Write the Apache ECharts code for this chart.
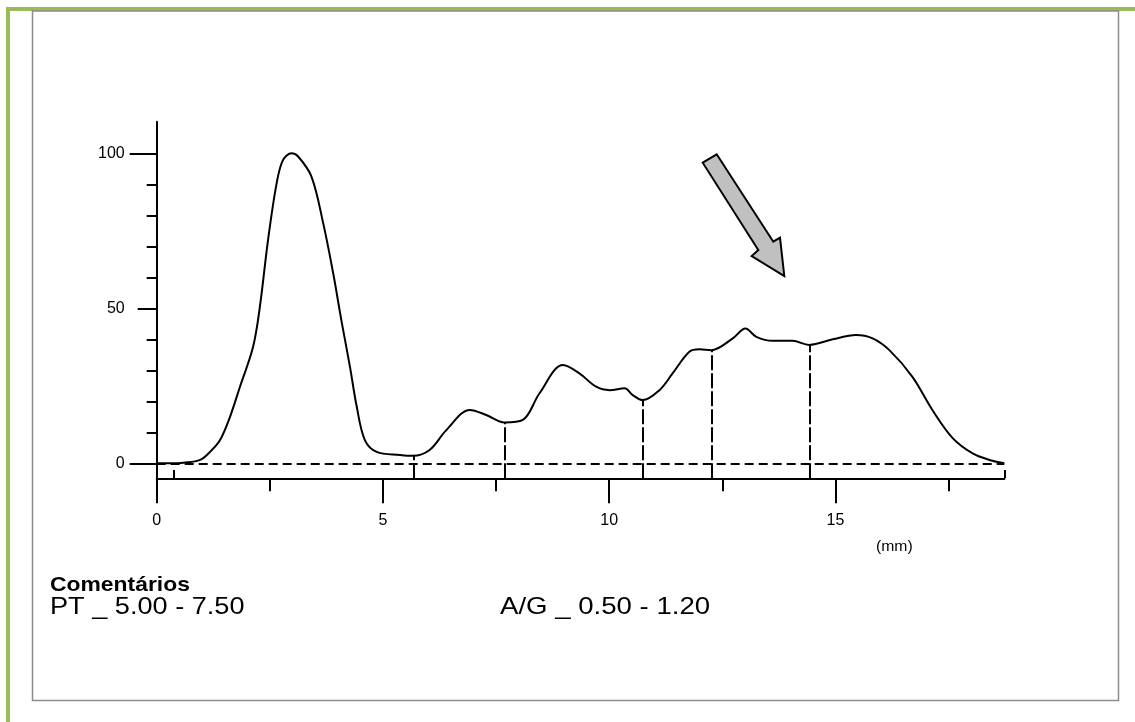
<!DOCTYPE html>
<html><head><meta charset="utf-8">
<script src="https://cdn.jsdelivr.net/npm/echarts@6/dist/echarts.min.js"></script>
<style>html,body{margin:0;padding:0;background:#fff}#c{width:1135px;height:722px}</style>
</head><body><div id="c"></div>
<script>
// Densitometry profile (x in mm, y relative %)
const curveX = [0, 0.3, 0.59, 0.96, 1.20, 1.40, 1.62, 1.84, 2.13, 2.28, 2.46, 2.65, 2.79, 2.98, 3.13, 3.42, 3.68, 3.90, 4.08, 4.27, 4.42, 4.60, 4.86, 5.38, 5.66, 6.03, 6.40, 6.92, 7.28, 7.69, 8.09, 8.46, 8.98, 9.34, 9.71, 10.01, 10.34, 10.52, 10.74, 11.11, 11.40, 11.77, 11.99, 12.25, 12.73, 13.01, 13.25, 13.61, 14.05, 14.42, 14.94, 15.45, 15.82, 16.19, 16.70, 17.14, 17.59, 18.03, 18.47, 18.73];
const curveY = [0, 0, 0.2, 1.1, 4.0, 7.5, 15.0, 24.7, 37.6, 50.5, 72.0, 90.3, 97.8, 100, 98.9, 92.5, 77.4, 61.3, 46.2, 31.2, 18.3, 7.5, 3.7, 2.7, 2.4, 4.3, 10.7, 17.2, 15.6, 13.2, 14.0, 22.6, 31.7, 29.0, 24.7, 23.6, 24.2, 22.0, 20.4, 23.6, 29.0, 36.0, 36.8, 36.5, 40.3, 43.5, 40.8, 39.5, 39.5, 38.2, 40.0, 41.4, 40.3, 36.5, 27.9, 17.2, 8.1, 3.2, 0.8, 0];
// fraction boundaries (dashed verticals) and their heights on the curve
const boundX = [5.68, 7.69, 10.74, 12.26, 14.42];
const boundTop = [2.4, 13.2, 20.4, 36.5, 38.2];
// start / end markers
const endX = [0.37, 18.73];
const endTop = [-2.2, -2.2];
// axis ticks & labels
const yLabelValues = [0, 50, 100];
const yLongTicks = [0, 100];
const yMidTicks = [50];
const yMinorTicks = [10, 20, 30, 40, 60, 70, 80, 90];
const xLabelValues = [0, 5, 10, 15];
const xMinorTicks = [2.5, 7.5, 12.5, 17.5];
const X_MIN = 0, X_MAX = 18.73, Y_MIN = -4.84, Y_MAX = 110.2;

const FONT = 'Liberation Sans, Arial, sans-serif';
const chart = echarts.init(document.getElementById('c'), null, {renderer: 'canvas'});

function yAx(ticks, len, showLine, labels) {
  return {
    type: 'value', position: 'left', min: Y_MIN, max: Y_MAX,
    axisLine: {show: showLine, onZero: false, lineStyle: {color: '#000', width: 2}},
    axisTick: {show: true, customValues: ticks, length: len, lineStyle: {color: '#000', width: 2}},
    axisLabel: labels ? {show: true, customValues: labels, margin: 32, color: '#000', fontSize: 16, fontFamily: FONT} : {show: false},
    splitLine: {show: false}
  };
}
function xAx(ticks, len, showLine, labels) {
  return {
    type: 'value', position: 'bottom', min: X_MIN, max: X_MAX,
    axisLine: {show: showLine, onZero: false, lineStyle: {color: '#000', width: 2}},
    axisTick: {show: true, customValues: ticks, length: len, lineStyle: {color: '#000', width: 2}},
    axisLabel: labels ? {show: true, customValues: labels, margin: 34, color: '#000', fontSize: 16, fontFamily: FONT} : {show: false},
    splitLine: {show: false}
  };
}

const boundLines = boundX.map((x, i) => [{coord: [x, Y_MIN]}, {coord: [x, boundTop[i]]}]);
const endLines = endX.map((x, i) => [{coord: [x, Y_MIN]}, {coord: [x, endTop[i]]}]);

chart.setOption({
  animation: false,
  backgroundColor: '#fff',
  grid: {left: 156.7, top: 121.7, right: 130.7, bottom: 243.7, containLabel: false},
  xAxis: [xAx(xLabelValues, 25, true, xLabelValues), xAx(xMinorTicks, 13, false, null)],
  yAxis: [yAx(yLongTicks, 27, true, yLabelValues), yAx(yMidTicks, 19, false, null), yAx(yMinorTicks, 10, false, null)],
  series: [
    {
      type: 'line', xAxisIndex: 0, yAxisIndex: 0,
      data: curveX.map((x, i) => [x, curveY[i]]),
      smooth: 0.35, showSymbol: false, symbol: 'none',
      lineStyle: {color: '#000', width: 2},
      markLine: {
        silent: true, symbol: ['none', 'none'], label: {show: false}, animation: false,
        data: [
          {yAxis: 0, lineStyle: {color: '#000', width: 2, type: [9, 5]}},
          ...boundLines.map(d => [{...d[0], lineStyle: {color: '#000', width: 2, type: [15, 3]}}, d[1]]),
          ...endLines.map(d => [{...d[0], lineStyle: {color: '#000', width: 2, type: 'solid'}}, d[1]])
        ]
      }
    }
  ],
  graphic: [
    {type: 'rect', shape: {x: 6, y: 7, width: 1129, height: 4}, style: {fill: '#9bbb59'}, silent: true},
    {type: 'rect', shape: {x: 6, y: 7, width: 4, height: 715}, style: {fill: '#9bbb59'}, silent: true},
    {type: 'rect', shape: {x: 32.5, y: 11, width: 1086, height: 689.5}, style: {fill: 'none', stroke: '#8c8c8c', lineWidth: 1.5}, silent: true},
    {type: 'polygon', shape: {points: [[702.7, 162.7], [716.7, 154.3], [773.3, 241.7], [780, 237.7], [784.3, 276], [751.7, 256], [758.3, 250]]},
      style: {fill: '#c0c0c0', stroke: '#000', lineWidth: 2, lineJoin: 'miter'}, silent: true},
    {type: 'text', x: 876, y: 547, scaleX: 1.05, style: {text: '(mm)', fill: '#000', font: '15px ' + FONT, verticalAlign: 'middle'}, silent: true},
    {type: 'text', x: 50, y: 585, scaleX: 1.09, style: {text: 'Comentários', fill: '#000', font: 'bold 21px ' + FONT, verticalAlign: 'middle'}, silent: true},
    {type: 'text', x: 50, y: 607, scaleX: 1.13, style: {text: 'PT _ 5.00 - 7.50', fill: '#000', font: '24px ' + FONT, verticalAlign: 'middle'}, silent: true},
    {type: 'text', x: 500, y: 607, scaleX: 1.15, style: {text: 'A/G _ 0.50 - 1.20', fill: '#000', font: '24px ' + FONT, verticalAlign: 'middle'}, silent: true}
  ]
});
</script></body></html>
